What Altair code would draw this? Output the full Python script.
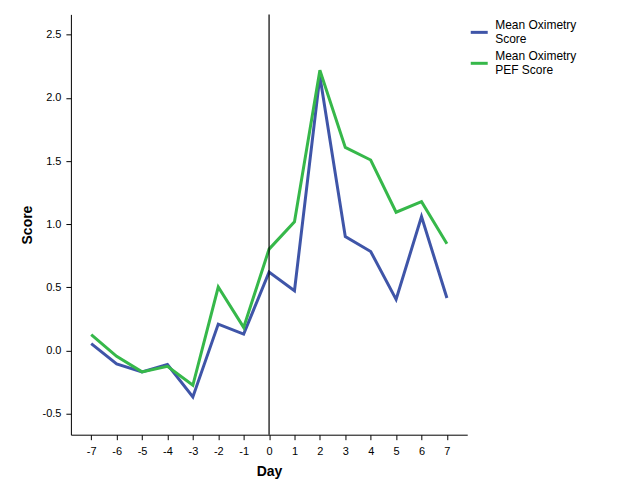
import altair as alt
import pandas as pd

days = list(range(-7, 8))
series_names = ["Mean Oximetry|Score", "Mean Oximetry|PEF Score"]
oximetry = [0.055, -0.105, -0.168, -0.11, -0.366, 0.21, 0.131, 0.621, 0.474, 2.17, 0.902, 0.784, 0.405, 1.06, 0.416]
oximetry_pef = [0.126, -0.045, -0.168, -0.124, -0.274, 0.503, 0.184, 0.803, 1.02, 2.218, 1.608, 1.508, 1.095, 1.178, 0.845]
colors = ["#3f55a8", "#36b84a"]
y_ticks = [-0.5, 0.0, 0.5, 1.0, 1.5, 2.0, 2.5]

rows = []
for d, a, b in zip(days, oximetry, oximetry_pef):
    rows.append({"Day": d, "Score": a, "Series": series_names[0]})
    rows.append({"Day": d, "Score": b, "Series": series_names[1]})
df = pd.DataFrame(rows)

xscale = alt.Scale(domain=[-7.8, 7.8], nice=False, zero=False)
yscale = alt.Scale(domain=[-0.665, 2.66], nice=False, zero=False)

xaxis = alt.Axis(values=days, labelExpr="toString(datum.value)", title="Day", grid=False,
                 labelOverlap=False, labelBound=False, labelFlush=False,
                 domainColor="black", tickColor="black", tickSize=5,
                 labelFont="Liberation Sans", labelFontSize=11, labelColor="black",
                 labelPadding=6,
                 titleFont="Liberation Sans", titleFontSize=14, titleFontWeight="bold",
                 titleColor="black", titlePadding=8)
yaxis = alt.Axis(values=y_ticks,
                 labelExpr="replace(format(datum.value, '.1f'), '\u2212', '-')",
                 title="Score", grid=False, labelOverlap=False,
                 domainColor="black", tickColor="black", tickSize=5,
                 labelFont="Liberation Sans", labelFontSize=11, labelColor="black",
                 labelPadding=5,
                 titleFont="Liberation Sans", titleFontSize=14, titleFontWeight="bold",
                 titleColor="black", titlePadding=8)

lines = alt.Chart(df).mark_line(strokeWidth=3).encode(
    x=alt.X("Day:Q", scale=xscale, axis=xaxis),
    y=alt.Y("Score:Q", scale=yscale, axis=yaxis),
    color=alt.Color("Series:N", sort=series_names,
                    scale=alt.Scale(domain=series_names, range=colors),
                    legend=alt.Legend(title=None, orient="none", legendX=399, legendY=8,
                                      symbolType="stroke", symbolStrokeWidth=3, symbolSize=289,
                                      labelExpr="split(datum.label, '|')",
                                      labelBaseline="bottom", labelOffset=6,
                                      labelFont="Liberation Sans", labelFontSize=12,
                                      labelColor="black", rowPadding=5, labelLimit=200)),
)

zero_df = pd.DataFrame({"Day": [0]})
vline = alt.Chart(zero_df).mark_rule(color="black", strokeWidth=1.2).encode(
    x=alt.X("Day:Q", scale=xscale, axis=xaxis)
)

chart = alt.layer(lines, vline).properties(
    width=397, height=421,
    autosize=alt.AutoSizeParams(type="none"),
    padding={"left": 63, "top": 6, "right": 150, "bottom": 60},
).configure_view(stroke=None)

chart.save("out.html", embed_options={"renderer": "svg", "actions": False})
